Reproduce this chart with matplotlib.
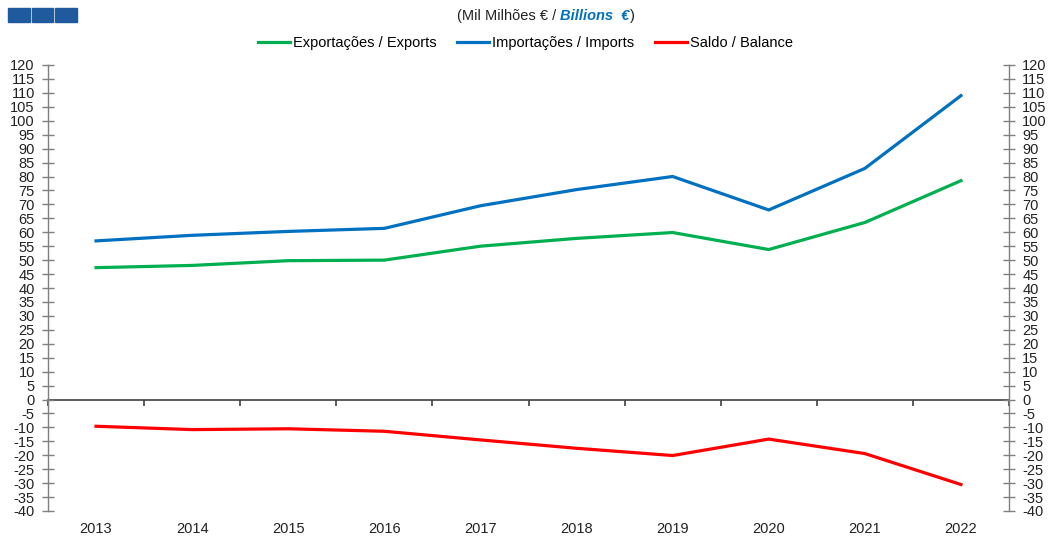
import matplotlib.pyplot as plt
from matplotlib.patches import Rectangle

plt.rcParams['font.family'] = ['Liberation Sans', 'DejaVu Sans']
plt.rcParams['axes.unicode_minus'] = False

years = ["2013", "2014", "2015", "2016", "2017", "2018", "2019", "2020", "2021", "2022"]
exports = [47.3, 48.1, 49.8, 50.0, 55.0, 57.8, 59.9, 53.8, 63.5, 78.5]
imports = [56.9, 58.9, 60.3, 61.4, 69.5, 75.3, 80.0, 68.0, 82.9, 109.0]
balance = [-9.6, -10.8, -10.5, -11.4, -14.5, -17.5, -20.1, -14.2, -19.4, -30.5]

y_ticks = list(range(-40, 121, 5))

fig = plt.figure(figsize=(10.51, 5.41), dpi=100)
ax = fig.add_axes([48 / 1051, 30 / 541, 961 / 1051, 446 / 541])

x = list(range(len(years)))
ax.plot(x, exports, color="#00B050", lw=2.3, label="Exportações / Exports")
ax.plot(x, imports, color="#0070C0", lw=2.3, label="Importações / Imports")
ax.plot(x, balance, color="#FF0000", lw=2.3, label="Saldo / Balance")

ax.set_xlim(-0.5, len(years) - 0.5)
ax.set_ylim(-40, 120)

spine_col = "#7f7f7f"
for s in ["top", "bottom"]:
    ax.spines[s].set_visible(False)
for s in ["left", "right"]:
    ax.spines[s].set_color(spine_col)
    ax.spines[s].set_linewidth(1.0)

ax.set_yticks(y_ticks)
ax.tick_params(axis="y", direction="inout", length=9, width=1.0, color=spine_col,
               left=True, right=True, labelleft=True, labelright=True,
               labelsize=10.5, pad=5, labelcolor="#222222")

ax.set_xticks(x)
ax.set_xticklabels(years)
ax.tick_params(axis="x", length=0, labelsize=10.5, pad=8, labelcolor="#222222")

# zero line with ticks between categories
zero_pos = (0 - (-40)) / (120 - (-40))
sec = ax.secondary_xaxis(zero_pos)
sec.spines["bottom"].set_color("#404040")
sec.spines["bottom"].set_linewidth(1.2)
sec.set_xticks([i - 0.5 for i in range(len(years) + 1)])
sec.set_xticklabels([])
sec.tick_params(axis="x", direction="out", length=4, width=1.2, color="#404040")

fig.legend(loc="center", bbox_to_anchor=(0.5, 1 - 43 / 541), ncol=3, frameon=False,
           fontsize=10.5, handlelength=2.2, handletextpad=0.2, columnspacing=1.4)

# header
t1 = fig.text(457 / 1051, 1 - 16 / 541, "(Mil Milhões € / ", fontsize=10.5,
              va="center", ha="left", color="#222222")
a2 = fig.add_artist(plt.Annotation("Billions  €", xy=(1, 0), xycoords=t1, va="bottom",
                                   ha="left", fontsize=10.5, fontweight="bold",
                                   fontstyle="italic", color="#0070C0",
                                   annotation_clip=False))
fig.add_artist(plt.Annotation(")", xy=(1, 0), xycoords=a2, va="bottom", ha="left",
                              fontsize=10.5, color="#222222", annotation_clip=False))

for i in range(3):
    fig.patches.append(Rectangle(((8 + i * 23.5) / 1051, 1 - 22 / 541), 21.5 / 1051, 14 / 541,
                                 transform=fig.transFigure, color="#1F5A9E"))

fig.savefig("out.png", dpi=100)
